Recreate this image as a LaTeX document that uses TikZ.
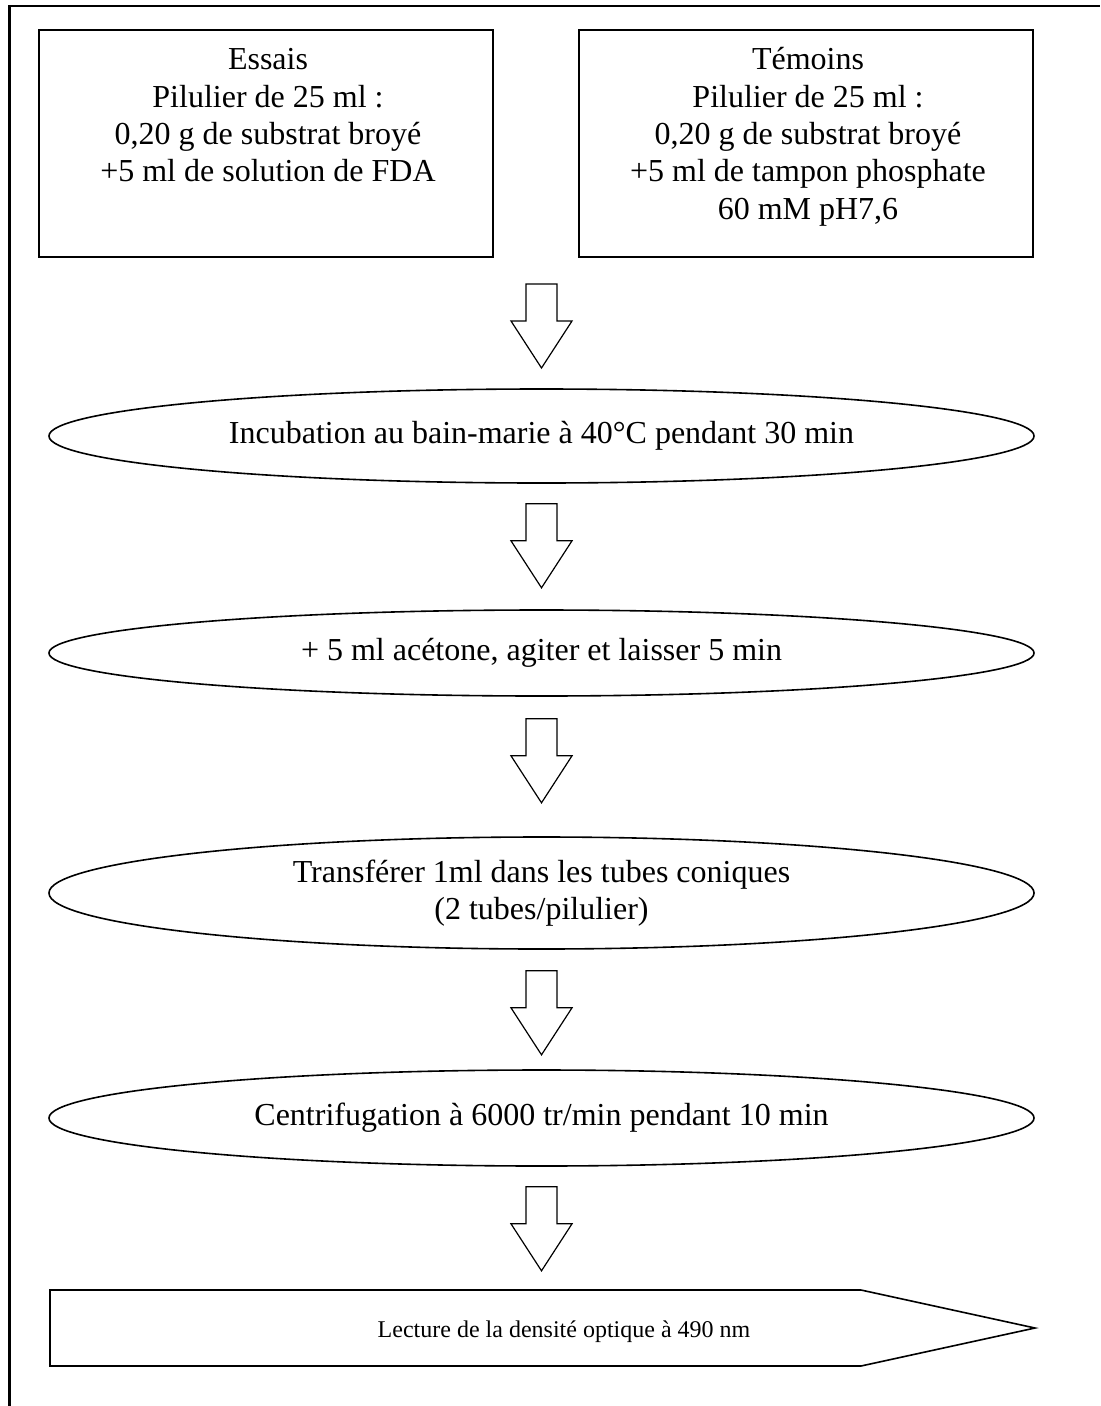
\documentclass[tikz,border=0pt]{standalone}
\usepackage{fontspec}
\setmainfont{Liberation Serif}
\usetikzlibrary{shapes.geometric,calc}
\begin{document}
\begin{tikzpicture}[x=0.375pt,y=-0.375pt,
  box/.style={draw,line width=0.6pt,minimum width=170.25pt,minimum height=85.1pt,inner sep=0pt},
  txt/.style={align=center,inner sep=0pt,font=\fontsize{12}{14}\selectfont},
  oval/.style={draw,ellipse,line width=0.6pt,minimum width=369.4pt,inner sep=0pt,font=\fontsize{12}{14}\selectfont,align=center},
  blockarrow/.pic={\draw[line width=0.45pt,line join=miter] (-15.5,0) -- (15.5,0) -- (15.5,37) -- (30.5,37) -- (0,84) -- (-30.5,37) -- (-15.5,37) -- cycle;}
]
\useasboundingbox (0,0) rectangle (1100,1406);
% frame
\draw[line width=0.8pt] (9.5,1406) -- (9.5,6) -- (1100,6);
% top boxes
\node[box] (essaisbox) at (266,143.5) {};
\node[box] (temoinsbox) at (806,143.5) {};
\node[txt,anchor=north] (essais) at (268,48) {Essais\\Pilulier de 25 ml :\\0,20 g de substrat broyé\\+5 ml de solution de FDA};
\node[txt,anchor=north] (temoins) at (808,47) {Témoins\\Pilulier de 25 ml :\\0,20 g de substrat broyé\\+5 ml de tampon phosphate\\60 mM pH7,6};
% steps
\node[oval,minimum height=35.25pt] (e1) at (541.5,436) {Incubation au bain-marie à 40°C pendant 30 min};
\node[oval,minimum height=32.25pt] (e2) at (541.5,653) {+ 5 ml acétone, agiter et laisser 5 min};
\node[oval,minimum height=42pt] (e3) at (541.5,893) {Transférer 1ml dans les tubes coniques\\(2 tubes/pilulier)};
\node[oval,minimum height=36pt] (e4) at (541.5,1118) {Centrifugation à 6000 tr/min pendant 10 min};
% final pentagon
\coordinate (p1) at (50,1290);
\coordinate (p2) at (861,1290);
\coordinate (p3) at (1035,1328);
\coordinate (p4) at (861,1366);
\coordinate (p5) at (50,1366);
\draw[line width=0.6pt,line join=miter] (p1) -- (p2) -- (p3) -- (p4) -- (p5) -- cycle;
\node[txt,font=\fontsize{9}{11}\selectfont] (lecture) at (564,1332) {Lecture de la densité optique à 490 nm};
% block arrows
\coordinate (a1) at (541.5,284);
\coordinate (a2) at ($(e1.south)+(0,20)$);
\coordinate (a3) at ($(e2.south)+(0,22)$);
\coordinate (a4) at ($(e3.south)+(0,21)$);
\coordinate (a5) at ($(e4.south)+(0,20)$);
\foreach \a in {a1,a2,a3,a4,a5} \pic at (\a) {blockarrow};
\end{tikzpicture}
\end{document}
